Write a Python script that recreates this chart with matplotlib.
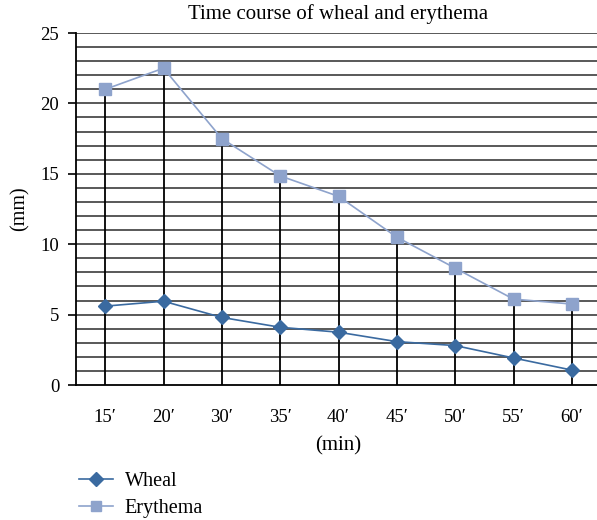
import numpy as np
import matplotlib.pyplot as plt

plt.rcParams['font.family'] = ['Liberation Serif', 'DejaVu Serif']

times = ["15′", "20′", "30′", "35′", "40′", "45′", "50′", "55′", "60′"]
wheal = [5.6, 5.95, 4.8, 4.1, 3.75, 3.08, 2.8, 1.92, 1.06]
erythema = [21.0, 22.5, 17.5, 14.85, 13.4, 10.5, 8.3, 6.1, 5.75]

fig = plt.figure(figsize=(5.97, 5.2), dpi=100)
ax = fig.add_axes([76/597, 1-385/520, 525/597, 352/520])

x = np.arange(len(times))

# horizontal grid every 1 mm
for yv in range(1, 26):
    ax.axhline(yv, color='#2b2b2b', lw=1.1, zorder=0)

# drop lines from erythema down to zero
ax.vlines(x, 0, erythema, color='black', lw=1.3, zorder=1)

ax.plot(x, wheal, color='#3a6aa0', lw=1.2, marker='D', ms=7, label='Wheal', zorder=3)
ax.plot(x, erythema, color='#8ea3cc', lw=1.2, marker='s', ms=9, label='Erythema', zorder=3)

ax.set_xlim(-0.5, len(times) - 0.5)
ax.set_ylim(0, 25)
ax.set_yticks([0, 5, 10, 15, 20, 25])
ax.set_xticks(x)
ax.set_xticklabels(times)
ax.tick_params(axis='x', length=0, pad=17, labelsize=13.5)
ax.tick_params(axis='y', length=6, width=1.2, direction='out', pad=6, labelsize=13.5)
for s in ['top', 'right']:
    ax.spines[s].set_visible(False)
ax.spines['left'].set_linewidth(1.3)
ax.spines['bottom'].set_linewidth(1.3)

ax.set_title('Time course of wheal and erythema', fontsize=15, pad=10)
ax.set_ylabel('(mm)', fontsize=14.5, labelpad=8)
ax.set_xlabel('(min)', fontsize=15, labelpad=8)

leg = fig.legend(loc='upper left', bbox_to_anchor=(0.118, 0.108), frameon=False,
                 fontsize=14.5, handlelength=1.7, handletextpad=0.6, labelspacing=0.4,
                 borderaxespad=0)
for h in leg.legend_handles:
    h.set_markersize(7)

fig.savefig('out.png', dpi=100)
